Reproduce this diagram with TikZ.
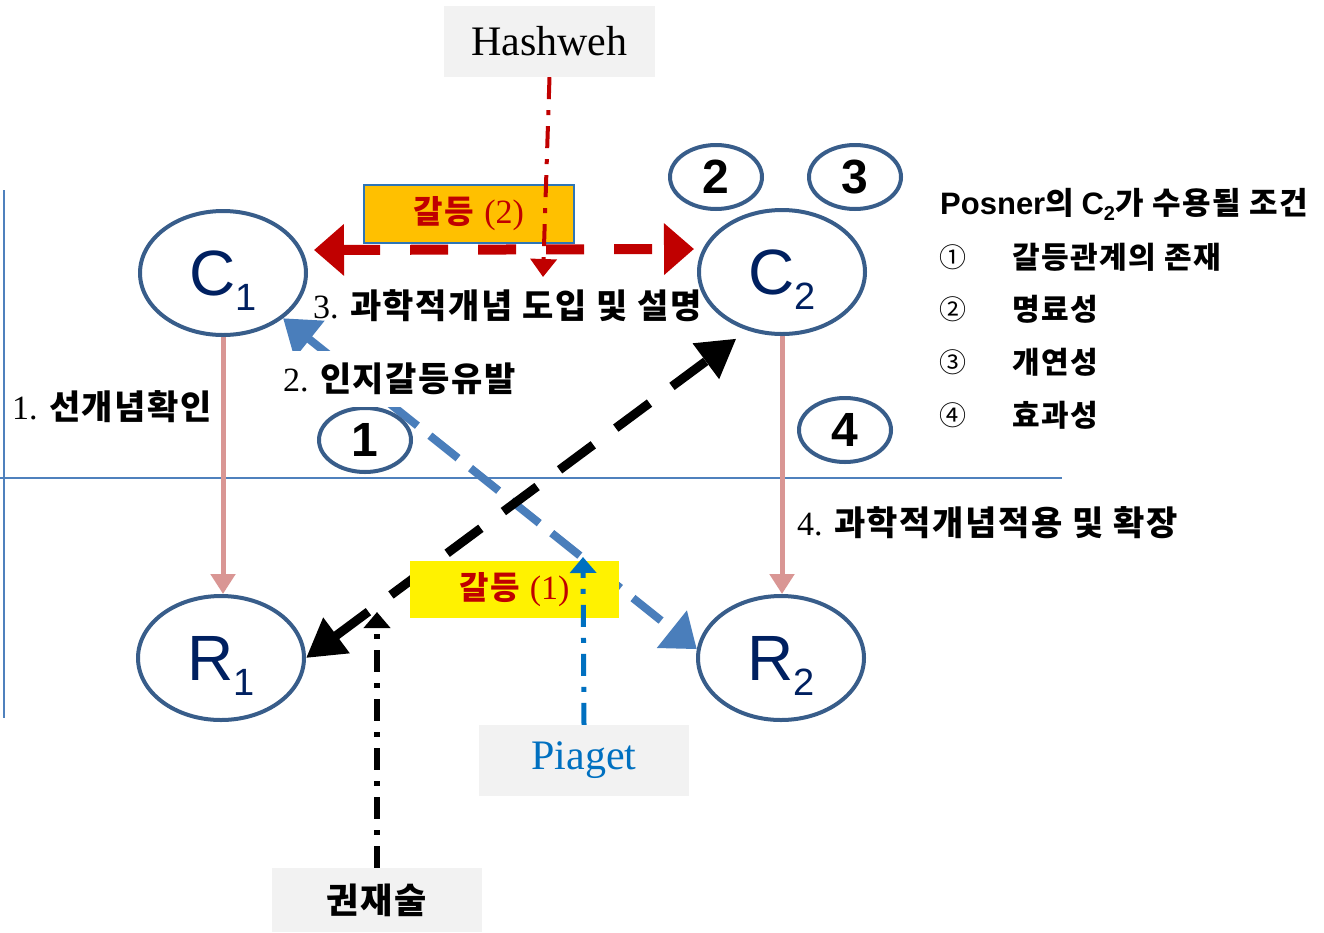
\documentclass[tikz,border=0pt]{standalone}
\usepackage{fontspec}
\setmainfont{Liberation Serif}
\newfontfamily\kr{Noto Sans CJK KR}
\newfontfamily\krs{Noto Sans CJK KR}[LetterSpace=5]
\newfontfamily\arial{Liberation Sans}
\usetikzlibrary{arrows.meta,shapes.geometric}
\pgfdeclarelayer{bg}
\pgfsetlayers{bg,main}
\definecolor{ellc}{RGB}{56,93,138}
\definecolor{navyc}{RGB}{0,32,96}
\definecolor{redc}{RGB}{192,0,0}
\definecolor{orangec}{RGB}{255,192,0}
\definecolor{boxblue}{RGB}{46,117,182}
\definecolor{grayc}{RGB}{242,242,242}
\definecolor{piagetc}{RGB}{0,112,192}
\definecolor{bluedash}{RGB}{74,126,187}
\definecolor{pinkc}{RGB}{217,150,148}
\definecolor{thinc}{RGB}{79,129,189}
\newcommand\lowsub[1]{\raisebox{-15pt}{\fontsize{38}{38}\selectfont #1}}
\newcommand\fs[1]{\fontsize{#1}{#1}\selectfont}
\begin{document}
\begin{tikzpicture}[x=1pt,y=-1pt,
 bigell/.style={ellipse,draw=ellc,line width=4pt,fill=white,inner sep=0pt,minimum width=166pt,minimum height=124pt,text=navyc,text depth=0pt,font=\arial\fs{64}},
 numell/.style={ellipse,draw=ellc,line width=4pt,fill=white,inner sep=0pt,minimum width=92pt,minimum height=64pt,font=\arial\bfseries\fs{48}},
 graybox/.style={rectangle,fill=grayc,inner sep=0pt,minimum width=210pt,minimum height=71pt},
 confbox/.style={rectangle,inner sep=0pt,minimum width=210pt,minimum height=58pt,text=redc},
 lbl/.style={anchor=west,inner sep=0pt,font=\fs{34}},
 lst/.style={anchor=west,inner sep=0pt,font=\krs\bfseries\fs{30}},
 circ/.style={inner sep=0pt,font=\kr\fs{27}},
 dashdotline/.style={line width=#1,dash pattern=on 22pt off 11pt on 5pt off 11pt},
 tipsmall/.style={-{Triangle[length=16pt,width=26pt]}}
]
\useasboundingbox (0,0) rectangle (1324,932);

% ellipses
\node[bigell] (C1) at (223,273) {C\lowsub{1}};
\node[bigell] (C2) at (782,272) {C\lowsub{2}};
\node[bigell] (R1) at (221,658) {R\lowsub{1}};
\node[bigell] (R2) at (781,658) {R\lowsub{2}};
\node[numell] (n2) at (716,177) {2};
\node[numell] (n3) at (855,177) {3};
\node[numell] (n1) at (365,440) {1};
\node[numell] (n4) at (845,430) {4};

% boxes
\node[graybox,minimum width=211pt] (hash) at (549.5,41.5) {\fs{42}Hashweh};
\node[graybox] (piaget) at (584,760.5) {\fs{42}\color{piagetc}Piaget};
\node[graybox,minimum height=64pt] (kwon) at (377,900) {\krs\bfseries\fs{35}권재술};
\node[confbox,fill=orangec,draw=boxblue,line width=1.5pt] (g2) at (469,214) {{\krs\bfseries\fs{32}갈등}\hspace{10pt}{\fs{34}(2)}};
\node[confbox,fill=yellow,minimum height=57pt,minimum width=209pt] (g1) at (514.5,589.5) {{\krs\bfseries\fs{32}갈등}\hspace{10pt}{\fs{34}(1)}};

% labels
\node[lbl] (t3) at (313,306) {3. {\krs\bfseries 과학적개념 도입 및 설명}};
\node[lbl,fill=white,minimum height=56pt] (t2) at (283,379) {2. {\krs\bfseries 인지갈등유발}};
\node[lbl] (t1) at (12,407) {1. {\krs\bfseries 선개념확인}};
\node[lbl] (t4) at (797,523) {4. {\krs\bfseries 과학적개념적용 및 확장}};

% Posner list
\node[anchor=west,inner sep=0pt] (title) at (940,204) {\fs{31}{\arial\bfseries Posner}{\krs\bfseries 의} {\arial\bfseries C\raisebox{-6pt}{\fs{20}2}}{\krs\bfseries 가 수용될 조건}};
\node[circ] (c1) at (953,257) {①};
\node[lst] (l1) at (1012,257) {갈등관계의 존재};
\node[circ] (c2) at (953,309) {②};
\node[lst] (l2) at (1012,309) {명료성};
\node[circ] (c3) at (953,362) {③};
\node[lst] (l3) at (1012,362) {개연성};
\node[circ] (c4) at (953,415) {④};
\node[lst] (l4) at (1012,415) {효과성};

\begin{pgfonlayer}{bg}
\draw[thinc,line width=2pt] (4,190) -- (4,718);
\draw[thinc,line width=2pt] (0,478) -- (1062,478);
\draw[pinkc,line width=5pt,-{Triangle[length=20pt,width=24pt]}] (C1.south) -- (C1.south |- R1.north);
\draw[pinkc,line width=5pt,-{Triangle[length=20pt,width=24pt]}] (C2.south) -- (C2.south |- R2.north);
\draw[bluedash,line width=8pt,dash pattern=on 36pt off 16pt,{Triangle[length=34pt,width=46pt]}-{Triangle[length=32pt,width=46pt]}] (C1.-37) -- (R2.174);
\draw[black,line width=9pt,dash pattern=on 42pt off 28pt,{Triangle[length=38pt,width=42pt]}-{Triangle[length=38pt,width=42pt]}] (R1.east) -- ([shift={(-6,10)}]C2.235);
\draw[redc,line width=10pt,dash pattern=on 38pt off 30pt,{Triangle[length=30pt,width=50pt]}-{Triangle[length=30pt,width=50pt]}] ([shift={(6,-23)}]C1.east) -- ([shift={(-3,-23)}]C2.west);
\end{pgfonlayer}

% dash-dot pointers
\coordinate (hwtip) at (543,277);
\draw[redc,dashdotline=4pt,-{Triangle[length=18pt,width=26pt]}] (hash.south) -- (hwtip);
\coordinate (pgtip) at (583,557);
\draw[piagetc,dashdotline=5pt,tipsmall] (piaget.north) -- (pgtip);
\coordinate (kwtip) at (377,612);
\draw[black,dashdotline=6pt,tipsmall] (kwon.north) -- (kwtip);
\end{tikzpicture}
\end{document}
